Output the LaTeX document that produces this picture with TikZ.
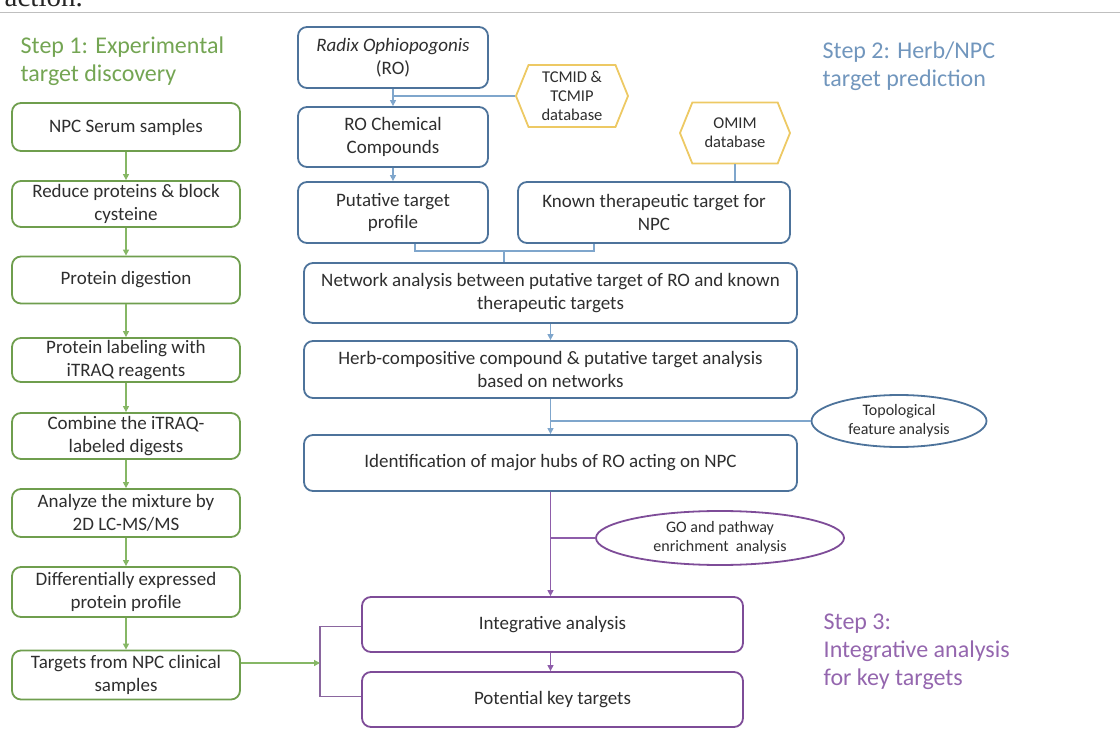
\documentclass[tikz,border=0pt]{standalone}
\usepackage{fontspec}
\setmainfont{Carlito}
\newfontfamily\oldserif{Liberation Serif}
\usetikzlibrary{arrows.meta, positioning, shapes.geometric, shapes.symbols}
\definecolor{cgreen}{HTML}{6F9E4E}
\definecolor{cgreenln}{HTML}{86B765}
\definecolor{cgreentxt}{HTML}{74A553}
\definecolor{cblue}{HTML}{4D739B}
\definecolor{cblueln}{HTML}{7FA6CC}
\definecolor{cbluetxt}{HTML}{7196BD}
\definecolor{cpurple}{HTML}{7E4C98}
\definecolor{cpurpleln}{HTML}{8E5DAA}
\definecolor{cpurpletxt}{HTML}{9466AE}
\definecolor{cgold}{HTML}{EDC964}
\definecolor{ctext}{HTML}{2E2E2E}
\tikzset{
  every picture/.style={x=1pt, y=-1pt, line width=1.4pt},
  box/.style={draw=#1, rounded corners=9pt, align=center, text=ctext, line width=1.8pt,
    inner sep=2pt, font=\fontsize{19}{22.5}\selectfont},
  box/.default=cblue,
  hexa/.style={signal, signal to=east and west, signal pointer angle=136, draw=cgold,
    line width=1.8pt, align=center, text=ctext, inner sep=1pt, font=\fontsize{16.5}{19}\selectfont},
  oval/.style={ellipse, draw=#1, line width=1.8pt, align=center, text=ctext, inner sep=0pt,
    font=\fontsize{16}{19}\selectfont},
  arrow/.style={-{Triangle[length=6pt, width=6pt]}, draw=#1, line width=1.3pt},
  link/.style={draw=#1, line width=1.3pt},
  title/.style={anchor=north west, align=left, inner sep=0pt, font=\fontsize{24}{28}\selectfont},
}

\begin{document}
\begin{tikzpicture}
  \useasboundingbox (0,0) rectangle (1120,738);
  % clipped caption line at the top
  \begin{scope}
    \clip (0,0) rectangle (1120,11);
    \node[anchor=base west, inner sep=0pt, font=\oldserif\fontsize{29}{30}\selectfont, text=black!85] (cap) at (4,7) {action.};
  \end{scope}
  \draw[black!25, line width=0.8pt] (0,12) -- (1120,12);

  % step 1: experimental
  \node[title, text=cgreentxt] (t1) at (20,36) {Step 1: Experimental\\target discovery};
  \node[box=cgreen, minimum width=228pt, minimum height=48pt] (ns) at (126,127) {NPC Serum samples};
  \node[box=cgreen, minimum width=228pt, minimum height=46pt] (rp) at (126,204) {Reduce proteins \& block\\cysteine};
  \node[box=cgreen, minimum width=228pt, minimum height=47pt] (pd) at (126,280) {Protein digestion};
  \node[box=cgreen, minimum width=228pt, minimum height=44pt] (pl) at (126,360) {Protein labeling with\\iTRAQ reagents};
  \node[box=cgreen, minimum width=228pt, minimum height=46pt] (cb) at (126,436) {Combine the iTRAQ-\\labeled digests};
  \node[box=cgreen, minimum width=228pt, minimum height=48pt] (am) at (126,513) {Analyze the mixture by\\2D LC-MS/MS};
  \node[box=cgreen, minimum width=228pt, minimum height=50pt] (de) at (126,592) {Differentially expressed\\protein profile};
  \node[box=cgreen, minimum width=228pt, minimum height=49pt] (tc) at (126,675) {Targets from NPC clinical\\samples};
  \foreach \a/\b in {ns/rp, rp/pd, pd/pl, pl/cb, cb/am, am/de, de/tc}
    \draw[arrow=cgreenln] (\a) -- (\b);

  % step 2: herb/npc prediction
  \node[title, text=cbluetxt] (t2) at (822,41) {Step 2: Herb/NPC\\target prediction};
  \node[box, minimum width=190pt, minimum height=61pt] (ro) at (393,57.5) {\textit{Radix Ophiopogonis}\\(RO)};
  \node[box, minimum width=190pt, minimum height=60pt] (rc) at (393,137) {RO Chemical\\Compounds};
  \node[box, minimum width=190pt, minimum height=61pt] (pt) at (393,212.5) {Putative target\\profile};
  \node[box, minimum width=272pt, minimum height=61pt] (kt) at (654,212.5) {Known therapeutic target for\\NPC};
  \node[hexa, minimum width=112pt, minimum height=62pt] (tcmid) at (572,96) {TCMID \&\\TCMIP\\database};
  \node[hexa, minimum width=110pt, minimum height=61pt] (omim) at (735,133) {OMIM\\database};
  \node[box, minimum width=493pt, minimum height=60pt] (na) at (550.5,293) {Network analysis between putative target of RO and known\\therapeutic targets};
  \node[box, minimum width=493pt, minimum height=57pt] (hc) at (550.5,369.5) {Herb-compositive compound \& putative target analysis\\based on networks};
  \node[box, minimum width=493pt, minimum height=56pt] (im) at (550.5,463) {Identification of major hubs of RO acting on NPC};
  \node[oval=cblue, minimum width=175pt, minimum height=52pt] (topo) at (899,421) {Topological\\feature analysis};

  \draw[arrow=cblueln] (ro) -- (rc);
  \draw[link=cblueln] (tcmid.west) -- (tcmid.west -| ro.south);
  \draw[arrow=cblueln] (rc) -- (pt);
  \draw[link=cblueln] (omim.south) -- (omim.south |- kt.north);
  \coordinate (jn) at (504,251);
  \draw[link=cblueln] ([xshift=22pt]pt.south) |- (jn) -| ([xshift=-60pt]kt.south);
  \draw[link=cblueln] (jn) -- (jn |- na.north);
  \draw[arrow=cblueln] (na.south) -- (hc.north);
  \draw[arrow=cblueln] (hc.south) -- (im.north);
  \draw[link=cblueln] (topo.west) -- (topo.west -| hc.south);

  % step 3: integrative analysis
  \node[title, text=cpurpletxt] (t3) at (823,613.5) {Step 3:\\Integrative analysis\\for key targets};
  \node[box=cpurple, minimum width=381pt, minimum height=55pt] (ia) at (552.5,624.5) {Integrative analysis};
  \node[box=cpurple, minimum width=381pt, minimum height=55pt] (pk) at (552.5,699.5) {Potential key targets};
  \node[oval=cpurple, minimum width=248pt, minimum height=54pt] (goa) at (720,538) {GO and pathway\\enrichment~ analysis};

  \draw[arrow=cpurpleln] (im.south) -- (im.south |- ia.north);
  \draw[link=cpurpleln] (goa.west) -- (goa.west -| im.south);
  \draw[arrow=cpurpleln] (ia.south -| im.south) -- (pk.north -| im.south);
  \coordinate (br) at (320,663);
  \draw[link=cpurpleln!75!gray] ([yshift=-2pt]ia.west) -| (br) |- ([yshift=3pt]pk.west);
  \draw[arrow=cgreenln] (tc.east |- br) -- (br);
\end{tikzpicture}
\end{document}
